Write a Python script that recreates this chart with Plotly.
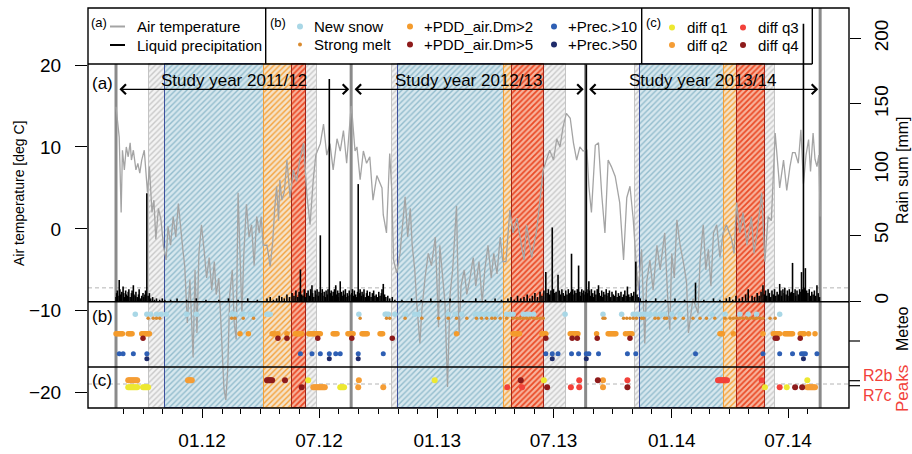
import pandas as pd
import plotly.graph_objects as go

RECORD_START = pd.Timestamp("2011-08-20")

# ---------------------------------------------------------------- data
# Air temperature (day of record, deg C)
temp_day = [0, 2, 5, 8, 10, 13, 16, 19, 22, 24, 27, 31, 34, 37, 40, 44, 46, 49, 52, 56,
            59, 62, 66, 70, 74, 78, 81, 85, 89, 93, 97, 101, 104, 107, 111, 115, 120, 123,
            126, 129, 133, 137, 141, 145, 149, 153, 156, 160, 165, 168, 171, 174, 177, 181,
            184, 187, 190, 193, 196, 199, 203, 207, 211, 215, 219, 223, 226, 229, 235, 240,
            244, 247, 250, 253, 255, 258, 262, 266, 271, 276, 281, 286, 292, 297, 302, 307,
            311, 318, 323, 328, 333, 338, 344, 349, 354, 359, 364, 366,
            367, 372, 375, 380, 385, 390, 395, 400, 406, 414, 416, 421, 426, 429, 432, 437,
            442, 450, 454, 458, 461, 465, 468, 473, 476, 481, 486, 491, 497, 502, 504, 509,
            512, 516, 520, 524, 530, 534, 537, 542, 546, 551, 556, 560, 565, 570, 574, 579,
            584, 588, 593, 598, 602, 607, 613, 618, 624, 631, 635, 639, 647, 655, 660, 665,
            670, 675, 681, 686, 691, 696, 701, 707, 712, 717, 722, 727, 731,
            733, 736, 740, 746, 751, 756, 761, 766, 771, 777, 784, 790, 795, 800, 805, 810,
            813, 818, 823, 826, 831, 836, 842, 847, 854, 859, 862, 865, 869, 873, 878, 883,
            888, 891, 898, 906, 909, 914, 918, 922, 926, 930, 935, 940, 945, 950, 958, 962,
            966, 971, 976, 982, 989, 993, 997, 1005, 1010, 1015, 1020, 1026, 1028, 1033,
            1039, 1044, 1049, 1053, 1057, 1062, 1066, 1070, 1074, 1078, 1081, 1085, 1088,
            1091, 1094, 1096]
temp_c = [14.9, 13.0, 11.2, 2.0, 9.6, 7.2, 10.0, 8.8, 10.5, 8.4, 9.6, 7.2, 8.0, 6.8, 8.4, 9.6,
          7.2, 4.4, 7.6, 2.0, 3.5, -1.3, 2.5, 1.1, -2.2, -3.8, 0.3, -2.0, 1.5, -1.0, 3.1, -0.5,
          -2.5, -4.6, -11.5, -6.2, -15.7, -5.0, -12.7, -3.0, 0.5, -2.5, -6.0, -3.5, -7.5, -4.0,
          -8.0, -6.0, -14.0, -19.5, -20.9, -17.0, -8.0, -5.0, -11.5, -13.5, 4.4, -2.0, -10.5,
          -3.0, 3.0, -1.0, 0.5, -4.5, 1.5, -0.5, 1.5, -2.0, -2.0, -4.6,
          -1.5, 2.5, 5.2, 1.0, 6.0, 3.5, 4.5, 8.4, 3.8, 7.2, 5.8, 8.4, 10.5, 4.2, 0.5, 6.0,
          9.0, 10.4, 12.8, 9.0, 10.4, 7.2, 11.0, 9.5, 12.0, 8.0, 13.7, 15.0,
          14.5, 9.5, 10.0, 6.0, 9.5, 8.0, 8.8, 3.5, 6.5, 5.0, 1.7, -0.5, 9.2, 5.0, -3.8, -5.4,
          -3.0, 3.9, -1.0, 2.5, -2.0, -5.0, -9.0, -14.0, -10.0, -6.0, -3.0, -4.5, -1.0, -12.0,
          -2.0, -6.0, -9.0, -19.3, -8.0, -5.0, 2.8, -13.0, -7.0, -5.0, -8.0, -6.0, -3.5, -7.0,
          -4.0, -9.0, -5.0, -2.0, -6.0, -3.0, -5.5, -1.0, -4.0, -4.0, 2.3, -0.5, 1.3, -2.0,
          -3.8, 0.5, -3.5, 0.0, 3.5, 7.2, 8.4, 9.6, 8.4, 11.0, 10.0, 12.5, 14.1, 13.5, 10.5,
          8.4, 10.0, 9.5, 9.6,
          9.6, 5.2, 2.0, 10.2, 10.5, 4.2, -0.5, 8.4, 7.6, 6.4, 3.2, -3.8, 3.8, 5.2, 1.2, -4.6,
          -7.5, -2.5, -14.0, -6.5, -3.8, -7.5, -2.0, -5.0, -0.5, -9.0, -12.3, -3.0, -6.0, 1.1,
          -2.0, -4.0, -6.5, -12.7, -8.5, -10.3, -4.0, 0.5, -5.0, -2.5, -7.0, -0.5, 0.5, -3.5,
          -0.5, 0.5, -1.2, -3.0, 3.2, -0.5, 2.0, -2.0, 1.5, -3.0, -1.0, 4.4, -4.0, 1.5, 1.0,
          11.7, 9.7, 5.0, 8.4, 4.7, 7.6, 9.3, 9.3, 8.0, 12.1, 5.5, 9.0, 10.9, 7.0, 11.7, 8.5,
          7.6, 9.0, 1.5]

# Liquid precipitation (day of record, mm)
rain_day = [0, 1, 2, 3, 5, 6, 7, 9, 11, 12, 13, 15, 16, 18, 19, 20, 22, 24, 25, 27, 28, 30, 31,
            33, 35, 36, 38, 40, 42, 43, 45, 46, 48, 50, 52, 54, 57, 60, 63, 68, 72, 76,
            85, 95, 110, 125, 140, 160, 175, 190, 205, 220,
            235, 240, 245, 250, 254, 258, 262, 266, 270, 274, 277, 280, 283, 285, 287, 289,
            291, 293, 295, 297, 299, 301, 303, 305, 306, 308, 310, 311, 313, 315, 316, 318,
            319, 321, 322, 324, 326, 327, 329, 330, 332, 334, 335, 337, 338, 340, 342, 343,
            345, 346, 347, 349, 351, 352, 354, 355, 357, 358, 360, 361, 363, 364,
            367, 368, 370, 371, 373, 374, 376, 377, 379, 380, 382, 383, 385, 386, 388, 390,
            391, 393, 395, 397, 399, 401, 403, 405, 407, 409, 411, 413, 414, 416, 418, 420,
            423, 426, 430, 434, 445, 460, 475, 490, 505, 520, 540, 560, 575, 590, 600,
            610, 615, 620, 625, 630, 635, 640, 644, 648, 652, 656, 660, 663, 666, 669, 671,
            673, 675, 677, 679, 681, 683, 685, 688, 690, 692, 694, 696, 698, 700, 702, 704,
            706, 708, 709, 711, 713, 714, 716, 718, 720, 722, 723, 725, 727, 728, 730,
            731, 732, 733, 734, 736, 737, 739, 740, 742, 743, 745, 747, 749, 751, 752, 754,
            756, 757, 759, 761, 763, 764, 766, 768, 770, 772, 774, 776, 778, 780, 782, 784,
            786, 788, 790, 792, 794, 796, 798, 800, 802, 804, 806, 809, 811, 813, 816,
            825, 840, 855, 870, 885, 902, 915, 930, 940,
            950, 955, 960, 965, 970, 975, 980, 984, 990, 994, 998, 1001, 1004, 1007, 1009,
            1011, 1013, 1015, 1017, 1019, 1021, 1023, 1025, 1027, 1029, 1031, 1033, 1035,
            1036, 1038, 1040, 1041, 1043, 1045, 1046, 1048, 1050, 1051, 1053, 1055, 1057,
            1058, 1060, 1062, 1064, 1066, 1067, 1069, 1070, 1071, 1072, 1073, 1075, 1077,
            1079, 1081, 1083, 1085, 1087, 1089, 1091, 1093, 1095]
rain_mm = [3, 6, 8, 4, 16, 9, 5, 7, 11, 6, 3, 8, 5, 4, 7, 9, 3, 6, 8, 12, 5, 4, 7,
           3, 5, 9, 2, 4, 6, 3, 5, 8, 82, 4, 6, 2, 3, 1, 2, 1, 2, 1,
           1, 2, 1, 2, 1, 1, 2, 1, 2, 1,
           2, 3, 1, 2, 4, 3, 2, 5, 3, 6, 4, 8, 3, 7, 24, 5,
           4, 9, 3, 6, 8, 4, 9, 12, 6, 3, 8, 5, 9, 4, 7, 50,
           6, 9, 4, 7, 3, 8, 5, 9, 169, 6, 8, 4, 7, 9, 12, 5,
           8, 3, 6, 15, 7, 4, 8, 5, 9, 3, 6, 4, 8, 5,
           6, 9, 4, 8, 5, 3, 7, 89, 6, 9, 4, 7, 5, 9, 3, 6,
           8, 4, 7, 3, 6, 8, 4, 5, 3, 7, 4, 6, 9, 13, 5, 3,
           4, 2, 3, 1, 1, 2, 1, 2, 1, 2, 1, 2, 1, 2, 1,
           2, 3, 1, 4, 2, 3, 5, 2, 4, 6, 3, 7, 4, 8, 22, 6,
           9, 5, 8, 56, 9, 6, 7, 20, 8, 5, 9, 6, 4, 8, 5, 9,
           6, 7, 36, 9, 5, 8, 6, 9, 27, 7, 4, 9, 6, 8, 5,
           7, 180, 9, 6, 15, 8, 4, 9, 6, 3, 8, 5, 9, 12, 6, 4,
           8, 3, 7, 5, 9, 4, 6, 8, 3, 7, 5, 4, 8, 3, 6, 4,
           7, 3, 5, 8, 4, 11, 5, 3, 6, 4, 7, 30, 5, 3, 2,
           1, 2, 1, 2, 1, 14, 1, 2, 1,
           2, 3, 1, 4, 2, 3, 5, 9, 4, 3, 6, 4, 7, 12, 5,
           8, 4, 9, 6, 3, 8, 5, 9, 4, 7, 5, 13, 8,
           4, 9, 6, 10, 5, 8, 4, 9, 6, 7, 29, 6, 9,
           4, 8, 5, 9, 7, 22, 9, 211, 10, 9, 25, 8, 6,
           9, 4, 7, 5, 8, 4, 12, 6, 3]
RAIN_THRESHOLD_MM = 10

# Study years and snow-cover phases
year_start = ["2011-08-20", "2012-08-20", "2013-08-20"]
year_end = ["2012-08-20", "2013-08-20", "2014-08-20"]
year_label = ["Study year 2011/12", "Study year 2012/13", "Study year 2013/14"]
snow_start = ["2011-10-10", "2012-10-23", "2013-11-05"]
winter_start = ["2011-11-05", "2012-11-01", "2013-11-12"]
melt_start = ["2012-04-06", "2013-04-15", "2014-03-23"]
strong_start = ["2012-05-20", "2013-04-28", "2014-04-13"]
strong_end = ["2012-06-11", "2013-06-16", "2014-05-26"]
snow_end = ["2012-06-28", "2013-07-20", "2014-06-11"]

# (b) meteorological flags, day of record
new_snow = [30, 48, 54, 63, 70, 78, 110, 125, 180, 183, 185, 196, 199, 209, 212, 235, 237, 240,
            378, 419, 421, 424, 434, 450, 465, 471, 517, 528, 538, 559, 563, 569, 574, 579, 585,
            590, 608, 613, 618, 634, 639, 644, 650, 699, 758, 787, 805, 810, 816, 821, 826, 831,
            839, 847, 854, 865, 878, 927, 948, 971, 984, 997, 1033]
strong_melt = [50, 58, 63, 68, 180, 185, 198, 214, 380, 421, 426, 450, 476, 502, 517, 530, 546,
               561, 569, 577, 585, 590, 598, 608, 618, 624, 629, 634, 639, 644, 650, 655, 660,
               665, 758, 761, 790, 795, 800, 805, 810, 818, 821, 839, 844, 854, 857, 870, 883,
               898, 909, 919, 932, 948, 956, 961, 966, 971, 976, 982, 987, 992, 997, 1002,
               1007, 1018, 1026]
pdd_gt2 = [0, 2, 4, 6, 8, 10, 19, 21, 23, 25, 40, 42, 44, 46, 48, 50, 52, 193, 206, 243, 245,
           247, 252, 266, 279, 281, 283, 285, 287, 289, 300, 302, 304, 306, 308, 310, 312, 314,
           316, 318, 338, 340, 342, 344, 361, 363, 365, 367, 369, 383, 385, 387, 389, 391, 411,
           413, 415, 530, 618, 620, 622, 624, 626, 628, 663, 665, 667, 669, 707, 709, 711, 713,
           715, 717, 719, 748, 766, 768, 770, 772, 774, 776, 778, 793, 797, 799, 801, 803, 940,
           942, 944, 961, 1007, 1023, 1025, 1027, 1029, 1031, 1033, 1041, 1043, 1045, 1047,
           1049, 1051, 1053, 1065, 1067, 1069, 1071, 1078, 1088]
pdd_gt5 = [42, 252, 266, 314, 367, 430, 669, 710, 718, 749, 800, 1026, 1029, 1065]
prec_gt10 = [5, 11, 27, 48, 287, 305, 318, 332, 342, 349, 377, 416, 669, 679, 688, 709, 720,
             732, 736, 751, 796, 809, 902, 1007, 1033, 1053, 1067, 1070, 1073, 1091]
prec_gt50 = [48, 332, 377, 679, 732, 1070]

# (c) runoff peak differences, day of record, per gauge and quartile
r2b_q1 = [299, 496, 666, 1076]
r2b_q2 = [19, 21, 23, 25, 27, 29, 31, 33, 112, 114, 116, 118, 378, 758]
r2b_q3 = [721, 796, 937, 939, 941, 943, 945, 947, 949, 951, 1005]
r2b_q4 = [235, 237, 239, 241, 243, 263, 630, 750]
r7c_q1 = [19, 21, 23, 25, 27, 29, 31, 33, 42, 44, 46, 48, 50, 349, 351, 353, 355, 1010, 1044]
r7c_q2 = [307, 309, 311, 313, 315, 317, 319, 321, 323, 325, 377, 416, 758, 1076, 1078, 1080,
          1082, 1084, 1086, 1088]
r7c_q3 = [609, 632, 708, 721, 1033]
r7c_q4 = [289, 671, 796, 1057, 1068]

# x-axis ticks
major_ticks = ["2012-01-01", "2012-07-01", "2013-01-01", "2013-07-01", "2014-01-01", "2014-07-01"]
major_labels = ["01.12", "07.12", "01.13", "07.13", "01.14", "07.14"]

# ---------------------------------------------------------------- styling
FONT = "Liberation Sans"
C_TEMP = "#a4a4a4"
C_NEWSNOW = "#a9d7e6"
C_MELT = "#d98a2e"
C_PDD2 = "#f49b2c"
C_PDD5 = "#8e1b1b"
C_P10 = "#2e5fb4"
C_P50 = "#1f2c6b"
C_Q1 = "#ede831"
C_Q2 = "#f59d35"
C_Q3 = "#f2413a"
C_Q4 = "#8e1b1b"
C_PEAK = "#f2413a"

W, H = 912, 454
L, R, T, B = 88, 63, 8, 46
PW, PH = W - L - R, H - T - B

T_MIN, T_MAX = -21.87, 26.96          # left axis (deg C)
RAIN_MIN, RAIN_MAX = -81.46, 223.07   # right axis (mm)
PANEL_A_TOP = 20.15                   # deg C at top of panel (a)


def px(x):
    return (x - L) / PW


def py(y):
    return (H - B - y) / PH


def dates(days):
    return [RECORD_START + pd.Timedelta(days=d) for d in days]


# row positions of the flag panels (fraction of plot height)
ROW = {"new_snow": py(314.3), "strong_melt": py(318.3), "pdd2": py(333.7), "pdd5": py(338.3),
       "p10": py(353.7), "p50": py(358.7), "r2b": py(380.3), "r7c": py(387.3)}

fig = go.Figure()


# ---------------------------------------------------------------- phase bands
def band(starts, ends, bg, fg, edge, size=4, solidity=0.35):
    s = pd.to_datetime(starts)
    e = pd.to_datetime(ends)
    widths = [(b - a).total_seconds() * 1000 for a, b in zip(s, e)]
    mids = [a + (b - a) / 2 for a, b in zip(s, e)]
    fig.add_trace(go.Bar(
        x=mids, y=[PANEL_A_TOP - T_MIN] * len(mids), base=[T_MIN] * len(mids), width=widths,
        marker=dict(color=bg, line=dict(color=edge, width=1),
                    pattern=dict(shape="/", fgcolor=fg, bgcolor=bg, size=size,
                                 solidity=solidity, fillmode="replace")),
        showlegend=False, hoverinfo="skip", yaxis="y"))


band(snow_start, snow_end, "#f3f3f3", "#c9c9c9", "#c4c4c4")
band(winter_start, melt_start, "#d6e7ee", "#93bccd", "#3d4f9c")
band(melt_start, strong_start, "#f4e2c8", "#f4a13a", "#f4a13a")
band(strong_start, strong_end, "#f8b39c", "#ea4a26", "#a3241a", solidity=0.45)

# ---------------------------------------------------------------- temperature & rain
fig.add_trace(go.Scatter(x=dates(temp_day), y=temp_c, mode="lines",
                         line=dict(color=C_TEMP, width=1.3), showlegend=False,
                         hoverinfo="skip", yaxis="y"))

rx, ry = [], []
for d, v in zip(dates(rain_day), rain_mm):
    rx += [d, d, None]
    ry += [0, v, None]
fig.add_trace(go.Scatter(x=rx, y=ry, mode="lines", line=dict(color="black", width=1.6),
                         showlegend=False, hoverinfo="skip", yaxis="y2"))


# ---------------------------------------------------------------- flag dots
def dots(days, row, color, size=5.5):
    fig.add_trace(go.Scatter(x=dates(days), y=[ROW[row]] * len(days), mode="markers",
                             marker=dict(color=color, size=size, line=dict(width=0)),
                             showlegend=False, hoverinfo="skip", yaxis="y3"))


dots(new_snow, "new_snow", C_NEWSNOW, 5.5)
dots(strong_melt, "strong_melt", C_MELT, 3.5)
dots(pdd_gt2, "pdd2", C_PDD2)
dots(pdd_gt5, "pdd5", C_PDD5)
dots(prec_gt10, "p10", C_P10, 5)
dots(prec_gt50, "p50", C_P50, 5)
for days, col in [(r2b_q1, C_Q1), (r2b_q2, C_Q2), (r2b_q3, C_Q3), (r2b_q4, C_Q4)]:
    dots(days, "r2b", col, 6)
for days, col in [(r7c_q1, C_Q1), (r7c_q2, C_Q2), (r7c_q3, C_Q3), (r7c_q4, C_Q4)]:
    dots(days, "r7c", col, 6)

# ---------------------------------------------------------------- shapes
shapes = []


def hline(y, x0=0, x1=1, color="black", width=1.4, dash=None, yref="paper", layer="above"):
    shapes.append(dict(type="line", xref="paper", yref=yref, x0=x0, x1=x1, y0=y, y1=y,
                       line=dict(color=color, width=width, dash=dash), layer=layer))


def vline(x, y0, y1, color="black", width=1.4, xref="paper", layer="above"):
    shapes.append(dict(type="line", xref=xref, yref="paper", x0=x, x1=x, y0=y0, y1=y1,
                       line=dict(color=color, width=width), layer=layer))


# dashed reference lines
hline(RAIN_THRESHOLD_MM, color="#b4b4b4", width=1, dash="4px,3px", yref="y2", layer="below")
hline(py(384), color="#b4b4b4", width=1, dash="4px,3px", layer="below")

# study-year boundaries
bounds = year_start + [year_end[-1]]
for i, b in enumerate(bounds):
    top = 1 if i == len(bounds) - 1 else py(64)
    vline(b, 0, top, color="#8a8a8a", width=3, xref="x", layer="below")

# frame and panel separators
shapes.append(dict(type="rect", xref="paper", yref="paper", x0=0, x1=1, y0=0, y1=1,
                   line=dict(color="black", width=1.4), layer="above"))
hline(py(301.7))
hline(py(367))
hline(py(64), 0, px(812.3))
for xb in (265.7, 641.7, 812.3):
    vline(px(xb), py(64), 1)

# extra right-hand ticks
for yt in (341, 380.7, 385.7):
    shapes.append(dict(type="line", xref="paper", yref="paper", x0=1, x1=px(860),
                       y0=py(yt), y1=py(yt), line=dict(color="black", width=1.2)))

# legend samples
shapes.append(dict(type="line", xref="paper", yref="paper", x0=px(110), x1=px(125),
                   y0=py(26.5), y1=py(26.5), line=dict(color=C_TEMP, width=2)))
shapes.append(dict(type="line", xref="paper", yref="paper", x0=px(110), x1=px(125),
                   y0=py(45), y1=py(45), line=dict(color="black", width=2)))


def legend_dot(x, y, color, d=6):
    r = d / 2
    shapes.append(dict(type="circle", xref="paper", yref="paper", xsizemode="pixel",
                       ysizemode="pixel", xanchor=px(x), yanchor=py(y), x0=-r, x1=r,
                       y0=-r, y1=r, fillcolor=color, line=dict(width=0)))


# ---------------------------------------------------------------- annotations
ann = []


def text(x, y, s, size=15, color="black", xanchor="left", angle=0, yanchor="middle"):
    ann.append(dict(x=px(x), y=py(y), xref="paper", yref="paper", text=s, showarrow=False,
                    xanchor=xanchor, yanchor=yanchor, textangle=angle,
                    font=dict(family=FONT, size=size, color=color)))


# legend (a)
text(89, 22, "(a)", 13)
text(135, 26.5, "Air temperature")
text(135, 45, "Liquid precipitation")
# legend (b)
text(268, 22, "(b)", 13)
legend_entries_b = [(300, 26.5, C_NEWSNOW, 6, "New snow"), (300, 44.5, C_MELT, 4, "Strong melt"),
                    (410, 26.5, C_PDD2, 6, "+PDD_air.Dm>2"), (410, 44.5, C_PDD5, 6, "+PDD_air.Dm>5"),
                    (554, 26.5, C_P10, 6, "+Prec.>10"), (554, 44.5, C_P50, 6, "+Prec.>50")]
for x, y, c, d, s in legend_entries_b:
    legend_dot(x, y, c, d)
    text(x + 12, y, s)
# legend (c)
text(644, 22, "(c)", 13)
legend_entries_c = [(672, 27.5, C_Q1, "diff q1"), (672, 45, C_Q2, "diff q2"),
                    (743, 27.5, C_Q3, "diff q3"), (743, 45, C_Q4, "diff q4")]
for x, y, c, s in legend_entries_c:
    legend_dot(x, y, c, 6)
    text(x + 13, y, s)

# panel labels
text(90, 84, "(a)", 17)
text(90, 316, "(b)", 17)
text(90, 380, "(c)", 17)

# axis titles and right-hand labels
text(19, 193, "Air temperature [deg C]", 14, xanchor="center", angle=-90)
text(902, 170, "Rain sum [mm]", 16, xanchor="center", angle=-90)
text(902, 329, "Meteo", 16, xanchor="center", angle=-90)
text(902, 389, "Peaks", 17, color=C_PEAK, xanchor="center", angle=-90)
text(861, 375, "R2b", 16, color=C_PEAK)
text(861, 395, "R7c", 16, color=C_PEAK)

# study-year arrows and titles
ARROW_Y = py(89.3)
for s, e, lab in zip(year_start, year_end, year_label):
    s_ts, e_ts = pd.Timestamp(s), pd.Timestamp(e)
    ann.append(dict(x=e_ts - pd.Timedelta(days=3), y=ARROW_Y, ax=s_ts + pd.Timedelta(days=3),
                    ay=ARROW_Y, xref="x", yref="y3", axref="x", ayref="y3", text="",
                    showarrow=True, arrowside="end+start", arrowhead=4, startarrowhead=4,
                    arrowsize=1.6, startarrowsize=1.6, arrowwidth=1.2, arrowcolor="black"))
    ann.append(dict(x=s_ts + (e_ts - s_ts) / 2, y=py(80), xref="x", yref="paper", text=lab,
                    showarrow=False, xanchor="center", yanchor="middle",
                    font=dict(family=FONT, size=17, color="black")))

# ---------------------------------------------------------------- layout
minor_ticks = pd.date_range("2011-09-01", "2014-08-01", freq="MS")
x_lo = RECORD_START - pd.Timedelta(days=43.6)
x_hi = RECORD_START + pd.Timedelta(days=1140.9)

fig.update_layout(
    width=W, height=H, margin=dict(l=L, r=R, t=T, b=B, pad=0, autoexpand=False),
    paper_bgcolor="white", plot_bgcolor="white", barmode="overlay", bargap=0,
    showlegend=False, font=dict(family=FONT, size=15, color="black"),
    xaxis=dict(type="date", range=[x_lo, x_hi], showgrid=False, zeroline=False,
               showline=False, automargin=False, tickmode="array", tickvals=major_ticks,
               ticktext=major_labels, ticks="outside", ticklen=9, tickwidth=1.2,
               tickcolor="black", tickfont=dict(family=FONT, size=19), ticklabelstandoff=6,
               minor=dict(tickmode="array", tickvals=list(minor_ticks), ticks="outside",
                          ticklen=4.5, tickwidth=1.2, tickcolor="black", showgrid=False)),
    yaxis=dict(range=[T_MIN, T_MAX], showgrid=False, zeroline=False, showline=False,
               automargin=False, tickmode="array", tickvals=[-20, -10, 0, 10, 20],
               ticktext=["\u221220", "\u221210", "0", "10", "20"], ticks="outside",
               ticklen=12, tickwidth=1.2, tickcolor="black",
               tickfont=dict(family=FONT, size=19), ticklabelstandoff=10),
    yaxis2=dict(range=[RAIN_MIN, RAIN_MAX], overlaying="y", side="right", showgrid=False,
                zeroline=False, showline=False, automargin=False, tickmode="array",
                tickvals=[0, 50, 100, 150, 200], ticks="outside", ticklen=11, tickwidth=1.2,
                tickcolor="black", tickangle=-90, tickfont=dict(family=FONT, size=19),
                ticklabelstandoff=4),
    yaxis3=dict(range=[0, 1], overlaying="y", visible=False, fixedrange=True),
    shapes=shapes, annotations=ann,
)

fig.write_html("out.html")
